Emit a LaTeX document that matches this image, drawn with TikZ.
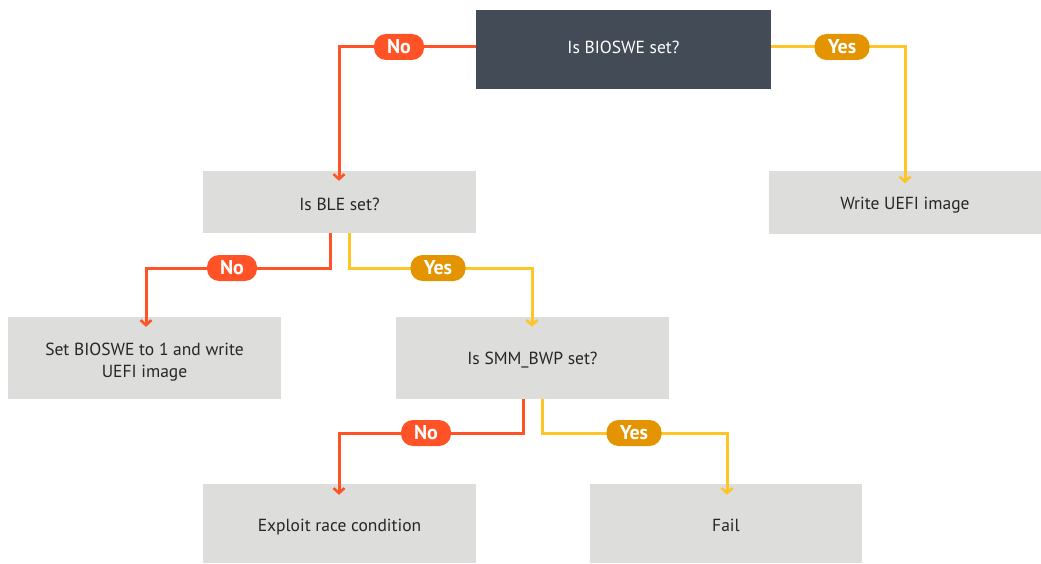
\documentclass[tikz,border=0pt]{standalone}
\usepackage{fontspec}
\setmainfont{PT Sans}
\usetikzlibrary{arrows.meta}
\definecolor{dark}{HTML}{434C56}
\definecolor{lgray}{HTML}{DDDEDB}
\definecolor{nored}{HTML}{FF5226}
\definecolor{yesline}{HTML}{FFC425}
\definecolor{yespill}{HTML}{E39400}
\begin{document}
\begin{tikzpicture}[x=1pt,y=-1pt,
  box/.style={fill=lgray,draw=none,inner sep=0pt},
  txt/.style={inner sep=0pt,font=\fontsize{17.5}{22}\selectfont,text=black!85,align=center},
  nopath/.style={draw=nored,line width=3pt,-{Straight Barb[length=5pt,width=11pt,line width=2.5pt]}},
  yespath/.style={draw=yesline,line width=3pt,-{Straight Barb[length=5pt,width=11pt,line width=2.5pt]}},
  pill/.style={rounded corners=12pt,minimum width=50pt,minimum height=26pt,inner sep=0pt,text=white,font=\fontsize{20}{22}\selectfont\bfseries},
  nopill/.style={pill,fill=nored},
  yespill/.style={pill,fill=yespill,minimum width=55pt}]
\useasboundingbox (0,0) rectangle (1041,564);
% boxes
\node[box,fill=dark,minimum width=295pt,minimum height=79pt] (q1) at (623.5,49.5) {};
\node[txt,text=white!92] (q1t) at (623.5,47) {Is BIOSWE set?};
\node[box,minimum width=273pt,minimum height=62pt] (q2) at (339.5,202) {};
\node[txt] (q2t) at (339.5,204) {Is BLE set?};
\node[box,minimum width=272pt,minimum height=62pt] (w1) at (905,202.5) {};
\node[txt] (w1t) at (905,205) {Write UEFI image};
\node[box,minimum width=273pt,minimum height=82pt] (s1) at (144.5,358) {};
\node[txt] (s1t) at (144.5,362) {Set BIOSWE to 1 and write\\UEFI image};
\node[box,minimum width=273pt,minimum height=82pt] (q3) at (532.5,358) {};
\node[txt] (q3t) at (532.5,360) {Is SMM\_BWP set?};
\node[box,minimum width=273pt,minimum height=79pt] (ex) at (339.5,523.5) {};
\node[txt] (ext) at (339.5,527) {Exploit race condition};
\node[box,minimum width=272pt,minimum height=79pt] (fl) at (726,523.5) {};
\node[txt] (flt) at (726,525.5) {Fail};
% coordinates
\coordinate (a1) at (339,47);
\coordinate (a2) at (905,47);
\coordinate (b1t) at (330,233);
\coordinate (b1m) at (330,268);
\coordinate (b1c) at (146,268);
\coordinate (b2t) at (349,233);
\coordinate (b2m) at (349,268);
\coordinate (b2c) at (532,268);
\coordinate (c1t) at (523,399);
\coordinate (c1m) at (523,433);
\coordinate (c1c) at (339,433);
\coordinate (c2t) at (542,399);
\coordinate (c2m) at (542,433);
\coordinate (c2c) at (727,433);
% connectors
\draw[nopath] (q1.west |- a1) -- (a1) -- ([yshift=-10pt]q2.north -| a1);
\draw[yespath] (q1.east |- a2) -- (a2) -- ([yshift=-12pt]w1.north);
\draw[nopath] (b1t) -- (b1m) -- (b1c) -- ([yshift=-10pt]s1.north -| b1c);
\draw[yespath] (b2t) -- (b2m) -- (b2c) -- ([yshift=-10pt]q3.north -| b2c);
\draw[nopath] (c1t) -- (c1m) -- (c1c) -- ([yshift=-11pt]ex.north -| c1c);
\draw[yespath] (c2t) -- (c2m) -- (c2c) -- ([yshift=-11pt]fl.north -| c2c);
% labels
\node[nopill] (l1) at (399,47) {No};
\node[yespill] (l2) at (842,47) {Yes};
\node[nopill] (l3) at (232,268) {No};
\node[yespill] (l4) at (438,268) {Yes};
\node[nopill] (l5) at (426,433) {No};
\node[yespill] (l6) at (634,433) {Yes};
\end{tikzpicture}
\end{document}
